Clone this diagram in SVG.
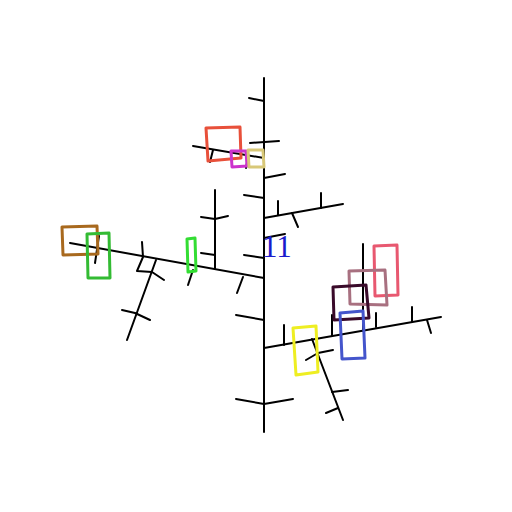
<svg xmlns="http://www.w3.org/2000/svg" width="512" height="512" viewBox="0 0 512 512">
<style>
.l{stroke:#000;stroke-width:2;fill:none;stroke-linecap:round;stroke-linejoin:round}
.b{fill:none;stroke-width:3;stroke-linejoin:round}
</style>
<rect width="512" height="512" fill="#fff"/>
<g id="connectors">
<path class="l" d="M264,78V432"/>
<path class="l" d="M249,98L264,101"/>
<path class="l" d="M250,143L279,141"/>
<path class="l" d="M193,146L264,158"/>
<path class="l" d="M213,150L210,162M248,157L246,168"/>
<path class="l" d="M264,178L285,174"/>
<path class="l" d="M244,195L264,198"/>
<path class="l" d="M264,218L343,204"/>
<path class="l" d="M278,201L278,215M321,193L321,208M292,213L298,227"/>
<path class="l" d="M264,238L285,234"/>
<path class="l" d="M244,255L264,258"/>
<path class="l" d="M264,278L70,243"/>
<path class="l" d="M243,277L237,293"/>
<path class="l" d="M215,190L215,269"/>
<path class="l" d="M201,217L215,219L228,216M201,253L215,255"/>
<path class="l" d="M193,270L188,285"/>
<path class="l" d="M142,242L143,257L137,271L152,272L164,280"/>
<path class="l" d="M156,260L127,340"/>
<path class="l" d="M122,310L135,313L150,320"/>
<path class="l" d="M99,236L95,263"/>
<path class="l" d="M236,315L264,320"/>
<path class="l" d="M264,348L441,317"/>
<path class="l" d="M284,325L284,345M332,315L332,336M363,244L363,331M376,313L376,327M412,307L412,322M427,320L431,333"/>
<path class="l" d="M312,339L343,420"/>
<path class="l" d="M306,360L318,353L333,350M332,392L348,390M326,413L338,408"/>
<path class="l" d="M236,399L264,404L293,399"/>
</g>
<g id="n1"><path class="b" stroke="#e8503a" d="M206,128L240,127L241,158L208,161Z"/></g>
<g id="n2"><path class="b" stroke="#cc33cc" d="M231,151L246,151L247,166L232,167Z"/></g>
<g id="n3"><path class="b" stroke="#d8c878" d="M248,150L263,150L264,167L249,167Z"/></g>
<g id="n4"><path class="b" stroke="#a8691e" d="M62,227L97,226L98,254L63,255Z"/></g>
<g id="n5"><path class="b" stroke="#33bb33" d="M87,234L109,233L110,278L88,278Z"/></g>
<g id="n6"><path class="b" stroke="#33dd33" d="M187,239L195,238L196,271L188,272Z"/></g>
<g id="n7"><path class="b" stroke="#e85870" d="M374,246L397,245L398,295L375,296Z"/></g>
<g id="n8"><path class="b" stroke="#a87080" d="M349,271L385,270L387,305L350,304Z"/></g>
<g id="n9"><path class="b" stroke="#3a0a2a" d="M333,287L366,285L369,318L334,320Z"/></g>
<g id="n10"><path class="b" stroke="#4455cc" d="M340,313L363,311L365,358L342,359Z"/></g>
<g id="n11"><path class="b" stroke="#eeee22" d="M293,328L316,326L318,372L296,375Z"/></g>
<g id="label"><text x="262" y="257" font-family="Liberation Serif, serif" font-size="31" fill="#1a1acc">11</text></g>
</svg>
